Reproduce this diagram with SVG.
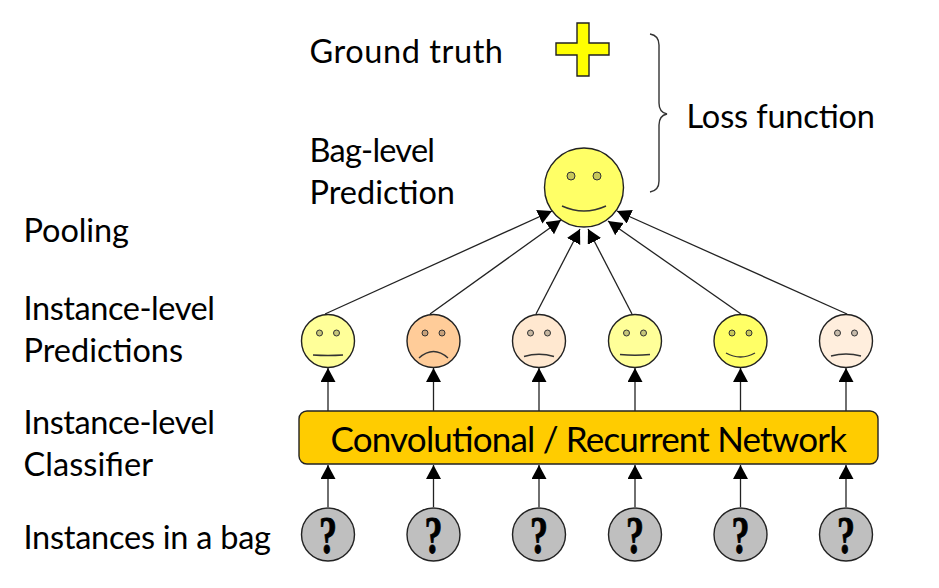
<svg xmlns="http://www.w3.org/2000/svg" width="939" height="588" viewBox="0 0 939 588">
<style>
text{font-family:"Lato","Noto Sans",sans-serif;fill:#000}
.l{font-size:32.5px}
.f{stroke:#222;stroke-width:1.4}
.e{stroke:#333;stroke-width:1}
.m{fill:none;stroke:#333;stroke-width:1.4}
.c line{stroke:#222;stroke-width:1.3;marker-end:url(#a)}
.q{font-family:"Liberation Serif",serif;font-weight:bold;font-size:50px;text-anchor:middle;stroke:#000;stroke-width:.8}
</style>
<defs>
<marker id="a" markerUnits="userSpaceOnUse" markerWidth="16" markerHeight="16" refX="14" refY="7.500" orient="auto"><path d="M0 0L14 7.500L0 15Z" fill="#000"/></marker>
</defs>
<g id="labels">
<text class="l" x="309.500" y="62.500" textLength="193.500">Ground truth</text>
<text class="l" x="686.500" y="127.500" textLength="188.500">Loss function</text>
<text class="l" x="309.500" y="161.500" textLength="125.500">Bag-level</text>
<text class="l" x="309.500" y="203.500" textLength="145.500">Prediction</text>
<text class="l" x="23.500" y="241.500" textLength="105.500">Pooling</text>
<text class="l" x="23.500" y="319.500" textLength="191.500">Instance-level</text>
<text class="l" x="23.500" y="361.500" textLength="159.500">Predictions</text>
<text class="l" x="23.500" y="433.500" textLength="191.500">Instance-level</text>
<text class="l" x="23.500" y="475.500" textLength="129.500">Classifier</text>
<text class="l" x="23.500" y="548.500" textLength="247.500">Instances in a bag</text>
</g>
<g id="connectors" class="c">
<line x1="325" y1="314" x2="552" y2="211"/>
<line x1="430" y1="314" x2="561" y2="220"/>
<line x1="536" y1="314" x2="580" y2="229"/>
<line x1="632" y1="314" x2="588" y2="229"/>
<line x1="741" y1="314" x2="608" y2="221"/>
<line x1="847" y1="314" x2="617" y2="211"/>
<line x1="328" y1="411" x2="328" y2="368"/>
<line x1="433.500" y1="411" x2="433.500" y2="368"/>
<line x1="539" y1="411" x2="539" y2="368"/>
<line x1="635" y1="411" x2="635" y2="368"/>
<line x1="740.500" y1="411" x2="740.500" y2="368"/>
<line x1="846" y1="411" x2="846" y2="368"/>
<line x1="328" y1="507" x2="328" y2="465"/>
<line x1="433.500" y1="507" x2="433.500" y2="465"/>
<line x1="539" y1="507" x2="539" y2="465"/>
<line x1="635" y1="507" x2="635" y2="465"/>
<line x1="740.500" y1="507" x2="740.500" y2="465"/>
<line x1="846" y1="507" x2="846" y2="465"/>
</g>
<g id="ground-truth"><path class="f" fill="#FFFF00" d="M577 23H589V43H609V55H589V76H577V55H556V43H577Z"/></g>
<g id="brace"><path class="m" d="M650 34C656 35 659 38 659 45V103C659 110 662 113 667 114C662 115 659 118 659 125V181C659 188 656 191 650 192"/></g>
<g id="bag-prediction">
<circle class="f" cx="584" cy="187.500" r="39.500" fill="#FFFF66"/>
<circle class="e" cx="571" cy="176" r="4" fill="#C6C65A"/>
<circle class="e" cx="597" cy="176" r="4" fill="#C6C65A"/>
<path class="m" d="M562 206Q584 216 606 206"/>
</g>
<g id="inst-1"><circle class="f" cx="328" cy="341" r="26.500" fill="#FFFF99"/><circle class="e" cx="319.500" cy="333" r="3" fill="#C6C67A"/><circle class="e" cx="336.500" cy="333" r="3" fill="#C6C67A"/><path class="m" d="M313 355Q328 356 343 355"/></g>
<g id="inst-2"><circle class="f" cx="433.500" cy="341" r="26.500" fill="#FFCC99"/><circle class="e" cx="425" cy="333" r="3" fill="#C6A07A"/><circle class="e" cx="442" cy="333" r="3" fill="#C6A07A"/><path class="m" d="M419 358Q433.500 345 448 358"/></g>
<g id="inst-3"><circle class="f" cx="539" cy="341" r="26.500" fill="#FFE8D0"/><circle class="e" cx="530.500" cy="333" r="3" fill="#C6B6A0"/><circle class="e" cx="547.500" cy="333" r="3" fill="#C6B6A0"/><path class="m" d="M524 356.500Q539 352 554 356.500"/></g>
<g id="inst-4"><circle class="f" cx="635" cy="341" r="26.500" fill="#FFFF99"/><circle class="e" cx="626.500" cy="333" r="3" fill="#C6C67A"/><circle class="e" cx="643.500" cy="333" r="3" fill="#C6C67A"/><path class="m" d="M620 354.500Q635 356 650 354.500"/></g>
<g id="inst-5"><circle class="f" cx="740.500" cy="341" r="26.500" fill="#FFFF66"/><circle class="e" cx="732" cy="333" r="3" fill="#C6C65A"/><circle class="e" cx="749" cy="333" r="3" fill="#C6C65A"/><path class="m" d="M726 353Q740.500 361 755 353"/></g>
<g id="inst-6"><circle class="f" cx="846" cy="341" r="26.500" fill="#FFEEDD"/><circle class="e" cx="837.500" cy="333" r="3" fill="#C6BAAA"/><circle class="e" cx="854.500" cy="333" r="3" fill="#C6BAAA"/><path class="m" d="M831 356Q846 352 861 356"/></g>
<g id="network">
<rect class="f" x="299" y="411" width="579" height="53" rx="8" fill="#FFCC00"/>
<text x="330.500" y="451.500" font-size="35" textLength="516.500">Convolutional / Recurrent Network</text>
</g>
<g id="q-1"><circle class="f" cx="328" cy="534.500" r="26.500" fill="#BFBFBF"/><text class="q" transform="translate(328 553) scale(.72 1.06)">?</text></g>
<g id="q-2"><circle class="f" cx="433.500" cy="534.500" r="26.500" fill="#BFBFBF"/><text class="q" transform="translate(433.500 553) scale(.72 1.06)">?</text></g>
<g id="q-3"><circle class="f" cx="539" cy="534.500" r="26.500" fill="#BFBFBF"/><text class="q" transform="translate(539 553) scale(.72 1.06)">?</text></g>
<g id="q-4"><circle class="f" cx="635" cy="534.500" r="26.500" fill="#BFBFBF"/><text class="q" transform="translate(635 553) scale(.72 1.06)">?</text></g>
<g id="q-5"><circle class="f" cx="740.500" cy="534.500" r="26.500" fill="#BFBFBF"/><text class="q" transform="translate(740.500 553) scale(.72 1.06)">?</text></g>
<g id="q-6"><circle class="f" cx="846" cy="534.500" r="26.500" fill="#BFBFBF"/><text class="q" transform="translate(846 553) scale(.72 1.06)">?</text></g>
</svg>
